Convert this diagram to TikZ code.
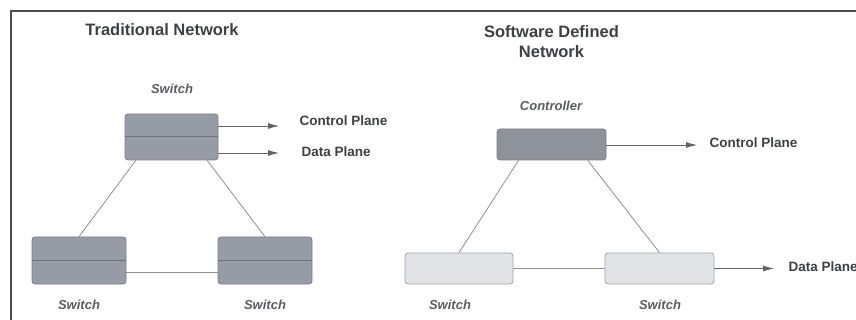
\documentclass[tikz,border=0pt]{standalone}
\usepackage{fontspec}
\setmainfont{Liberation Sans}
\usetikzlibrary{arrows.meta,calc}
\definecolor{darkfill}{HTML}{969BA5}
\definecolor{darkedge}{HTML}{7A7F88}
\definecolor{ctrlfill}{HTML}{8E939B}
\definecolor{lightfill}{HTML}{E1E3E7}
\definecolor{lightedge}{HTML}{A2A6AD}
\definecolor{wire}{HTML}{8C8F94}
\definecolor{txt}{HTML}{3E4045}
\tikzset{
  darkbox/.style={draw=darkedge, fill=darkfill, rounded corners=3pt, line width=0.8pt, inner sep=0pt},
  ctrlbox/.style={draw=darkedge, fill=ctrlfill, rounded corners=3pt, line width=0.8pt, inner sep=0pt, minimum width=109pt, minimum height=31pt},
  lightbox/.style={draw=lightedge, fill=lightfill, rounded corners=3pt, line width=0.8pt, inner sep=0pt, minimum width=108pt, minimum height=31pt},
  divider/.style={draw=darkedge!90!black, line width=1pt},
  wireline/.style={draw=wire, line width=0.8pt},
  arrowline/.style={draw=wire!70!black, line width=0.8pt, -{Latex[length=11pt,width=6pt]}},
  title/.style={text=txt, font=\fontsize{16.5}{20}\selectfont\bfseries, align=center},
  lbl/.style={text=txt!85, font=\fontsize{13}{15}\selectfont\bfseries\itshape},
  plane/.style={text=txt, font=\fontsize{13.5}{16}\selectfont\bfseries, anchor=west},
}
\begin{document}
\begin{tikzpicture}[x=1pt,y=-1pt]
\useasboundingbox (0,0) rectangle (856,320);
\fill[white] (0,0) rectangle (856,320);
\draw[line width=2pt, color=black!70] (11,320) -- (11,11) -- (856,11);

% Traditional network
\node[title] (t1) at (162,30) {Traditional Network};
\node[lbl] (ls1) at (172,89) {Switch};
\node[darkbox, minimum width=93pt, minimum height=46pt] (ts) at (171.5,137) {};
\draw[divider] (ts.west) -- (ts.east);
\node[darkbox, minimum width=94pt, minimum height=47pt] (bl) at (79,260.5) {};
\draw[divider] (bl.west) -- (bl.east);
\node[darkbox, minimum width=94pt, minimum height=47pt] (br) at (265,260.5) {};
\draw[divider] (br.west) -- (br.east);
\node[lbl] (ls2) at (79,305) {Switch};
\node[lbl] (ls3) at (265,305) {Switch};

\coordinate (ca) at (279,126);
\coordinate (da) at (279,153);
\draw[arrowline] (ts.east |- ca) -- (ca);
\draw[arrowline] (ts.east |- da) -- (da);
\node[plane] (cp1) at (296,121) {Control Plane};
\node[plane] (dp1) at (298,152) {Data Plane};

\draw[wireline] ($(ts.south west)!0.12!(ts.south east)$) -- (bl.north);
\draw[wireline] ($(ts.south west)!0.88!(ts.south east)$) -- (br.north);
\draw[wireline] ([yshift=-11.5pt]bl.east) -- ([yshift=-11.5pt]br.west);

% Software defined network
\node[title] (t2) at (551.5,42) {Software Defined\\Network};
\node[lbl] (lc) at (551,106) {Controller};
\node[ctrlbox] (ctl) at (551.5,144.5) {};
\node[lightbox] (sl) at (459,268.5) {};
\node[lightbox, minimum width=109pt] (sr) at (659.5,268.5) {};
\node[lbl] (ls4) at (450,305) {Switch};
\node[lbl] (ls5) at (660,305) {Switch};

\coordinate (ca2) at (697,145);
\coordinate (da2) at (774,268.5);
\draw[arrowline] (ctl.east |- ca2) -- (ca2);
\draw[arrowline] (sr.east) -- (da2);
\node[plane] (cp2) at (706,143) {Control Plane};
\node[plane] (dp2) at (785,267) {Data Plane};

\draw[wireline] ($(ctl.south west)!0.2!(ctl.south east)$) -- ($(sl.north west)!0.5!(sl.north east)$);
\draw[wireline] ($(ctl.south west)!0.83!(ctl.south east)$) -- (sr.north);
\draw[wireline] (sl.east) -- (sr.west);
\end{tikzpicture}
\end{document}
